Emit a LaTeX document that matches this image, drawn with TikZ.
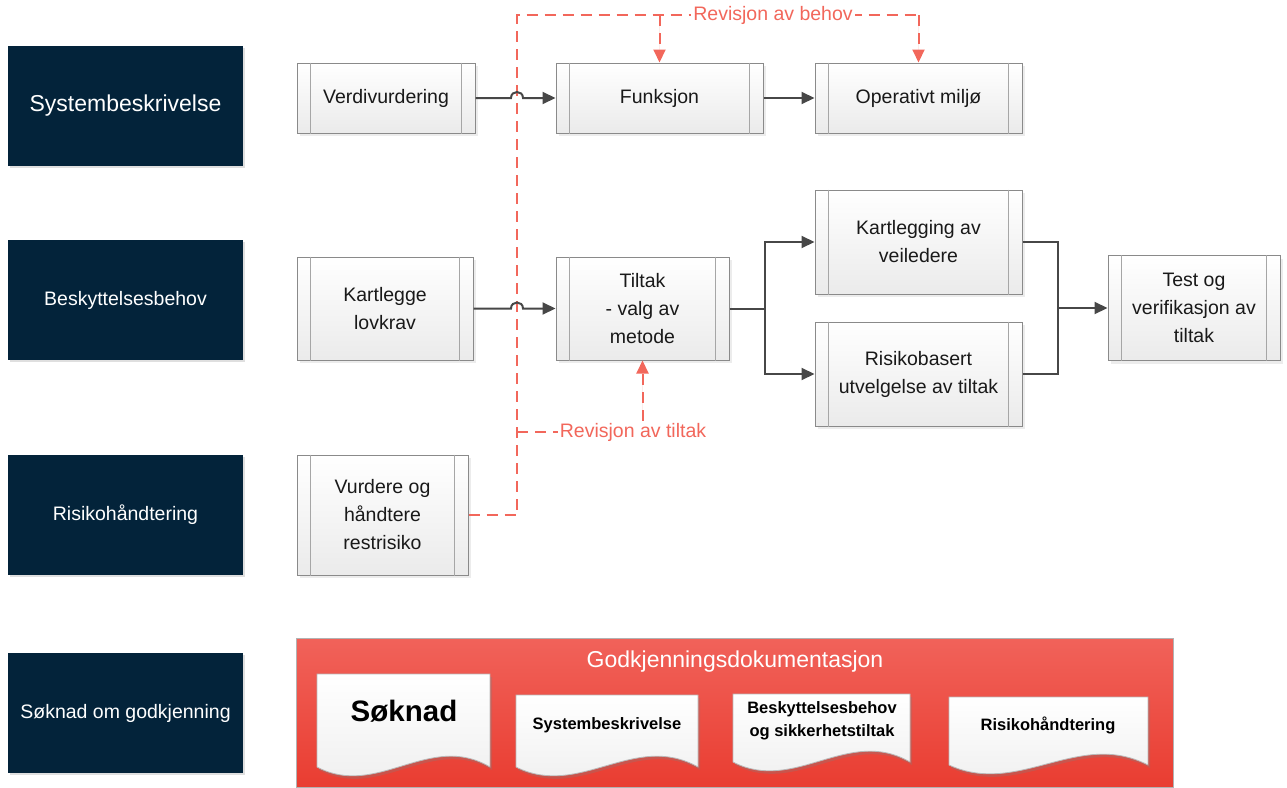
\documentclass[tikz,border=0pt]{standalone}
\usepackage{fontspec}
\setmainfont{Liberation Sans}
\usetikzlibrary{positioning}
\usetikzlibrary{arrows.meta}
\usetikzlibrary{shadows}

\definecolor{laneblue}{HTML}{03233A}
\definecolor{revred}{HTML}{F2675B}
\definecolor{boxgray}{HTML}{8A8A8A}
\definecolor{redtop}{HTML}{F1625A}
\definecolor{redbottom}{HTML}{E93D31}

\tikzset{
  lane/.style={fill=laneblue, text=white, minimum width=235pt, minimum height=120pt,
    font=\fontsize{19.5}{24}\selectfont,
    drop shadow={shadow xshift=2pt, shadow yshift=-2pt, opacity=0.25}},
  procbox/.style={draw=boxgray, line width=1pt, top color=white, bottom color=gray!16,
    align=center, text=black!90, font=\fontsize{19.5}{28}\selectfont,
    drop shadow={shadow xshift=3pt, shadow yshift=-3pt, opacity=0.15}},
  innerline/.style={draw=gray!70, line width=1pt},
  flowline/.style={draw=black!72, line width=2pt},
  flow/.style={flowline, -{Triangle[length=13pt,width=12pt]}},
  revision/.style={draw=revred, line width=2pt, dash pattern=on 11pt off 7pt},
  revtip/.style={-{Triangle[length=13pt,width=12pt]}, fill=revred},
  revlabel/.style={text=revred, fill=white, inner sep=2pt, font=\fontsize{19.5}{24}\selectfont},
  docframe/.style={draw=gray!60, line width=0.8pt, top color=redtop, bottom color=redbottom},
  docpage/.style={draw=gray!55, line width=0.8pt, top color=white, bottom color=gray!14,
    drop shadow={shadow xshift=2pt, shadow yshift=-3pt, opacity=0.3}},
  doctext/.style={font=\bfseries\fontsize{16.5}{23}\selectfont, align=center, text=black}
}

% document page with wavy bottom: x1, top, x2, bottom
\newcommand{\docpage}[4]{
\draw[docpage] (#1,#4) -- (#1,#2) -- (#3,#2) -- (#3,#4)
  .. controls ({#1+0.65*(#3-#1)},{#4-36}) and ({#1+0.35*(#3-#1)},{#4+32}) .. (#1,#4) -- cycle;
}

\begin{document}
\begin{tikzpicture}[x=1pt, y=-1pt]

\useasboundingbox (0,0) rectangle (1287,787);

% lanes
\node[lane, font=\fontsize{23}{28}\selectfont] (sysLane) at (125.5,106) {Systembeskrivelse};
\node[lane] (beskLane) at (125.5,300) {Beskyttelsesbehov};
\node[lane] (risLane) at (125.5,515) {Risikohåndtering};
\node[lane] (soknLane) at (125.5,713) {Søknad om godkjenning};

% process boxes
\node[procbox, minimum width=178pt, minimum height=70pt] (verdi) at (386,98) {Verdivurdering};
\node[procbox, minimum width=207pt, minimum height=70pt] (funk) at (659.5,98) {Funksjon};
\node[procbox, minimum width=207pt, minimum height=70pt] (oper) at (918.5,98) {Operativt miljø};

\node[procbox, minimum width=176pt, minimum height=103pt] (lovkrav) at (385,308.5) {Kartlegge\\lovkrav};
\node[procbox, minimum width=173pt, minimum height=103pt] (tiltak) at (642.5,308.5) {Tiltak\\ - valg av\\metode};
\node[procbox, minimum width=207pt, minimum height=104pt] (veil) at (918.5,242) {Kartlegging av\\veiledere};
\node[procbox, minimum width=207pt, minimum height=104pt] (risbas) at (918.5,374) {Risikobasert\\utvelgelse av tiltak};
\node[procbox, minimum width=172pt, minimum height=105pt] (test) at (1194,308) {Test og\\verifikasjon av\\tiltak};

\node[procbox, minimum width=171pt, minimum height=120pt] (rest) at (382.5,515) {Vurdere og\\håndtere\\restrisiko};

\foreach \n in {verdi,funk,oper,lovkrav,tiltak,veil,risbas,test,rest}
{
\draw[innerline] ([xshift=14pt]\n.north west) -- ([xshift=14pt]\n.south west);
\draw[innerline] ([xshift=-14pt]\n.north east) -- ([xshift=-14pt]\n.south east);
}

% revision lines
\coordinate (revUp) at (517,15);
\coordinate (revRight) at (918.5,15);

\draw[revision] (rest.east) -| (revUp) -- (revRight);
\draw[revision, revtip] (revRight) -- (oper.north);
\draw[revision, revtip] (funk.north |- revUp) -- (funk.north);
\node[revlabel] (revBehov) at (773,15) {Revisjon av behov};

\node[revlabel] (revTiltak) at (633,432) {Revisjon av tiltak};
\draw[revision] (revUp |- revTiltak) -- (revTiltak.west);
\draw[revision, revtip] (revTiltak.north -| tiltak.south) -- (tiltak.south);

% flow arrows (with hops over the dashed line)
\coordinate (hopA) at (517,98);
\coordinate (hopB) at (517,308.5);

\draw[flow] (verdi.east) -- ([xshift=-6pt]hopA)
  .. controls ([xshift=-6pt,yshift=8pt]hopA) and ([xshift=6pt,yshift=8pt]hopA) .. ([xshift=6pt]hopA) -- (funk.west);
\draw[flow] (lovkrav.east) -- ([xshift=-6pt]hopB)
  .. controls ([xshift=-6pt,yshift=8pt]hopB) and ([xshift=6pt,yshift=8pt]hopB) .. ([xshift=6pt]hopB) -- (tiltak.west);
\draw[flow] (funk.east) -- (oper.west);

\coordinate (split) at (765,308.5);
\coordinate (merge) at (1058,308);
\draw[flowline] (tiltak.east) -- (split);
\draw[flow] (split) |- (veil.west);
\draw[flow] (split) |- (risbas.west);
\draw[flowline] (veil.east) -| (merge);
\draw[flowline] (risbas.east) -| (merge);
\draw[flow] (merge) -- (test.west);

% approval documentation
\node[docframe, minimum width=877pt, minimum height=149pt, inner sep=0pt] (approval) at (734.5,712.5) {};
\node[text=white, font=\fontsize{23}{28}\selectfont] (approvalTitle) at (735,662) {Godkjenningsdokumentasjon};

\docpage{317}{674}{490}{767}
\docpage{516}{695}{698}{767}
\docpage{733}{694}{910}{762}
\docpage{949}{697}{1148}{765}

\node[doctext, font=\bfseries\fontsize{29.5}{34}\selectfont] (docSoknad) at (404,711) {Søknad};
\node[doctext] (docSystem) at (607,725) {Systembeskrivelse};
\node[doctext] (docBesk) at (822,721) {Beskyttelsesbehov\\og sikkerhetstiltak};
\node[doctext] (docRisiko) at (1048,725) {Risikohåndtering};

\end{tikzpicture}
\end{document}
